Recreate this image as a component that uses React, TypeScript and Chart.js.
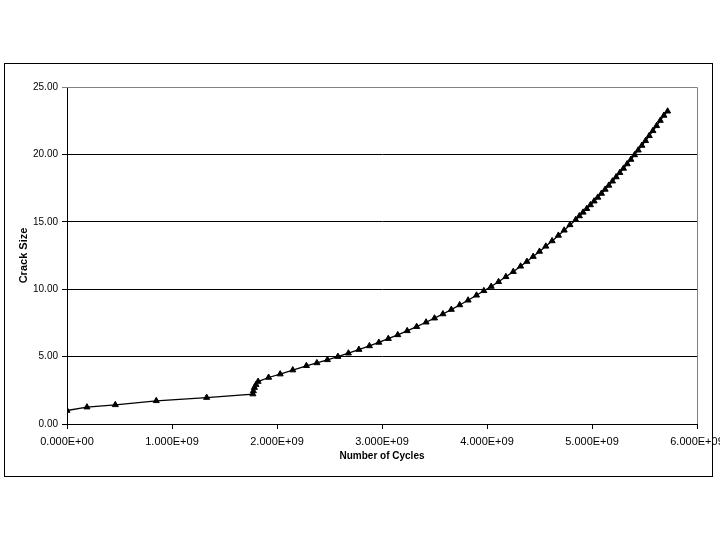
import React, { useEffect, useRef } from "react";
import { Chart, registerables } from "chart.js";

Chart.register(...registerables);

const cycles = [
  0, 0.19e9, 0.46e9, 0.85e9, 1.33e9, 1.77e9, 1.775e9, 1.785e9, 1.8e9, 1.82e9,
  1.92e9, 2.03e9, 2.15e9, 2.28e9, 2.38e9, 2.48e9, 2.58e9, 2.68e9, 2.78e9, 2.88e9,
  2.97e9, 3.06e9, 3.15e9, 3.24e9, 3.33e9, 3.42e9, 3.5e9, 3.58e9, 3.66e9, 3.74e9,
  3.82e9, 3.9e9, 3.97e9, 4.04e9, 4.11e9, 4.18e9, 4.25e9, 4.32e9, 4.38e9, 4.44e9,
  4.5e9, 4.56e9, 4.62e9, 4.68e9, 4.735e9, 4.79e9, 4.845e9, 4.88e9, 4.915e9, 4.95e9,
  4.985e9, 5.02e9, 5.055e9, 5.09e9, 5.125e9, 5.16e9, 5.195e9, 5.23e9, 5.265e9, 5.3e9,
  5.335e9, 5.37e9, 5.405e9, 5.44e9, 5.475e9, 5.51e9, 5.545e9, 5.58e9, 5.615e9, 5.65e9,
  5.685e9, 5.72e9,
];

const crackSize = [
  1.0, 1.25, 1.42, 1.72, 1.96, 2.22, 2.45, 2.7, 2.92, 3.15,
  3.45, 3.7, 4.0, 4.32, 4.53, 4.76, 5.0, 5.25, 5.52, 5.79,
  6.05, 6.33, 6.61, 6.91, 7.22, 7.55, 7.85, 8.16, 8.49, 8.83,
  9.18, 9.55, 9.88, 10.2, 10.55, 10.92, 11.3, 11.7, 12.05, 12.42,
  12.8, 13.18, 13.58, 13.99, 14.37, 14.77, 15.15, 15.43, 15.7, 15.97,
  16.25, 16.53, 16.81, 17.1, 17.4, 17.7, 18.01, 18.32, 18.64, 18.96,
  19.29, 19.62, 19.96, 20.31, 20.66, 21.01, 21.38, 21.75, 22.12, 22.51,
  22.89, 23.2,
];

const xTitle = "Number of Cycles";
const yTitle = "Crack Size";

function sci(v: number): string {
  if (v === 0) return "0.000E+00";
  const e = Math.floor(Math.log10(Math.abs(v)) + 1e-9);
  const m = v / Math.pow(10, e);
  const es = (e < 0 ? "-" : "+") + String(Math.abs(e)).padStart(2, "0");
  return m.toFixed(3) + "E" + es;
}

const framePlugin = {
  id: "framePlugin",
  beforeDraw(chart: any) {
    const { ctx, width, height } = chart;
    ctx.save();
    ctx.fillStyle = "#ffffff";
    ctx.fillRect(0, 0, width, height);
    ctx.restore();
  },
  afterDraw(chart: any) {
    const { ctx, chartArea } = chart;
    ctx.save();
    ctx.strokeStyle = "#000000";
    ctx.lineWidth = 1;
    ctx.strokeRect(4.5, 63.5, 708, 413);
    ctx.strokeStyle = "#808080";
    ctx.beginPath();
    const r = Math.round(chartArea.right) + 0.5;
    const t = Math.round(chartArea.top) + 0.5;
    ctx.moveTo(Math.round(chartArea.left), t);
    ctx.lineTo(r, t);
    ctx.lineTo(r, Math.round(chartArea.bottom));
    ctx.stroke();
    ctx.restore();
  },
};

export default function App() {
  const ref = useRef<HTMLCanvasElement | null>(null);
  useEffect(() => {
    if (!ref.current) return;
    const data = cycles.map((x, i) => ({ x, y: crackSize[i] }));
    const chart = new Chart(ref.current, {
      type: "line",
      data: {
        datasets: [
          {
            data,
            borderColor: "#000000",
            backgroundColor: "#000000",
            borderWidth: 1.3,
            pointStyle: "triangle",
            pointRadius: 3.5,
            pointBorderWidth: 1,
            pointBackgroundColor: "#000000",
            pointBorderColor: "#000000",
            tension: 0,
          },
        ],
      },
      options: {
        responsive: false,
        animation: false,
        devicePixelRatio: 1,
        layout: { padding: { left: 0, top: 87, right: 23, bottom: 0 } },
        plugins: { legend: { display: false }, tooltip: { enabled: false } },
        scales: {
          x: {
            type: "linear",
            min: 0,
            max: 6e9,
            afterFit(scale: any) {
              scale.height = 116;
              scale.paddingLeft = 0;
              scale.paddingRight = 0;
            },
            ticks: {
              stepSize: 1e9,
              color: "#000000",
              font: { family: "Arial, 'Liberation Sans', sans-serif", size: 11 },
              padding: 6,
              maxRotation: 0,
              autoSkip: false,
              callback: (v: any) => sci(Number(v)),
            },
            grid: {
              drawOnChartArea: false,
              drawTicks: true,
              tickLength: 5,
              color: "#000000",
            },
            border: { display: true, color: "#000000", width: 1 },
            title: {
              display: true,
              text: xTitle,
              color: "#000000",
              font: { family: "Arial, 'Liberation Sans', sans-serif", size: 10, weight: "bold" },
              padding: { top: 0, bottom: 78 },
            },
          },
          y: {
            type: "linear",
            min: 0,
            max: 25,
            afterFit(scale: any) {
              scale.width = 67;
              scale.paddingTop = 0;
              scale.paddingBottom = 0;
            },
            ticks: {
              stepSize: 5,
              color: "#000000",
              font: { family: "Arial, 'Liberation Sans', sans-serif", size: 10 },
              padding: 4,
              callback: (v: any) => Number(v).toFixed(2),
            },
            grid: {
              drawOnChartArea: true,
              drawTicks: true,
              tickLength: 5,
              color: (c: any) => (c.tick && c.tick.value === 25 ? "#808080" : "#000000"),
            },
            border: { display: true, color: "#000000", width: 1 },
            title: {
              display: true,
              text: yTitle,
              color: "#000000",
              font: { family: "Arial, 'Liberation Sans', sans-serif", size: 11, weight: "bold" },
              padding: { top: 17, bottom: 0 },
            },
          },
        },
      },
      plugins: [framePlugin],
    });
    return () => chart.destroy();
  }, []);
  return (
    <div style={{ position: "absolute", left: 0, top: 0, width: 720, height: 540 }}>
      <canvas ref={ref} width={720} height={540} style={{ width: 720, height: 540 }} />
    </div>
  );
}
